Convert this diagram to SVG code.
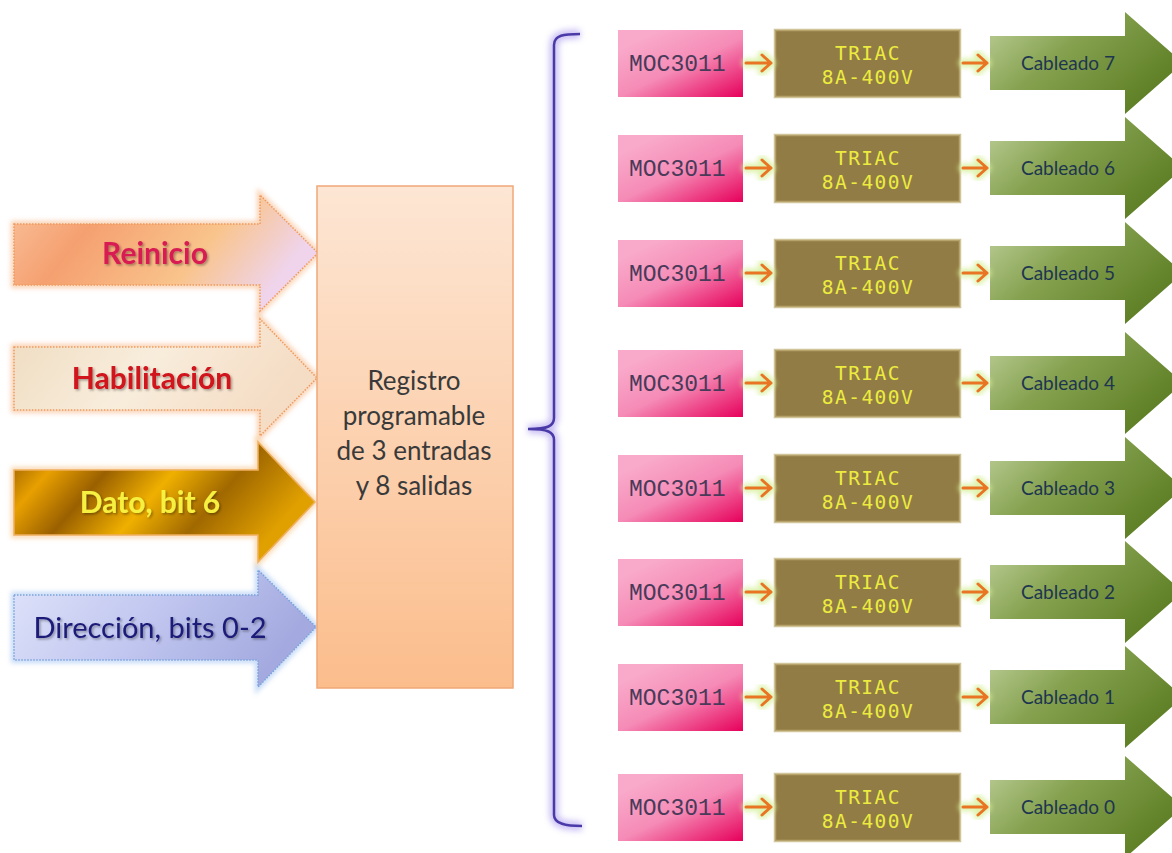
<svg xmlns="http://www.w3.org/2000/svg" width="1172" height="853" viewBox="0 0 1172 853">
  <style>
    .lbl-in { font-family: Lato, "Open Sans", "Liberation Sans", sans-serif; font-size: 30px; font-weight: bold; text-anchor: middle; }
    .reg { font-family: Lato, "Liberation Sans", sans-serif; font-size: 26px; fill: #3a3a3a; text-anchor: middle; }
    .moc-box { fill: url(#gMoc); }
    .moc-txt { font-family: "Liberation Mono", "DejaVu Sans Mono", monospace; font-size: 23px; fill: #4a3a5a; }
    .triac-box { fill: #927c45; stroke: #c2b07a; stroke-width: 2.5; stroke-opacity: 0.75; }
    .triac-txt { font-family: "DejaVu Sans Mono", "Liberation Mono", monospace; font-size: 19.5px; letter-spacing: 1.5px; fill: #ecec40; text-anchor: middle; }
    .out-arrow { fill: url(#gGreen); }
    .out-txt { font-family: Lato, "Liberation Sans", sans-serif; font-size: 19px; fill: #1e3550; text-anchor: middle; }
    .link { fill: none; stroke: #e87424; stroke-width: 3; stroke-linecap: round; stroke-linejoin: round; }
    .link-glow { fill: none; stroke: #d6f09a; stroke-width: 9; stroke-linecap: round; stroke-linejoin: round; opacity: 0.8; filter: url(#soft); }
  </style>
  <defs>
    <filter id="soft" x="-30%" y="-30%" width="160%" height="160%">
      <feGaussianBlur stdDeviation="2.5"/>
    </filter>
    <filter id="glowBrace" x="-50%" y="-10%" width="200%" height="120%">
      <feGaussianBlur stdDeviation="3"/>
    </filter>
    <filter id="tshadow" x="-10%" y="-20%" width="120%" height="150%">
      <feDropShadow dx="1.5" dy="1.5" stdDeviation="1" flood-color="#000" flood-opacity="0.35"/>
    </filter>
    <linearGradient id="gMoc" x1="0.2" y1="0.1" x2="1" y2="1">
      <stop offset="0" stop-color="#f9aacb"/>
      <stop offset="0.45" stop-color="#f58bb6"/>
      <stop offset="1" stop-color="#e6005a"/>
    </linearGradient>
    <linearGradient id="gGreen" x1="0" y1="0.2" x2="1" y2="0.8">
      <stop offset="0" stop-color="#b3c78c"/>
      <stop offset="0.35" stop-color="#86a250"/>
      <stop offset="1" stop-color="#56781c"/>
    </linearGradient>
    <linearGradient id="gReg" x1="0" y1="0" x2="0" y2="1">
      <stop offset="0" stop-color="#fde6d4"/>
      <stop offset="1" stop-color="#fbbd8c"/>
    </linearGradient>
    <linearGradient id="gReinicio" x1="0" y1="0" x2="1" y2="0.3">
      <stop offset="0" stop-color="#f9c09a"/>
      <stop offset="0.3" stop-color="#f5a070"/>
      <stop offset="0.7" stop-color="#f9c48c"/>
      <stop offset="1" stop-color="#efd4ec"/>
    </linearGradient>
    <linearGradient id="gHabil" x1="0" y1="0" x2="1" y2="0.3">
      <stop offset="0" stop-color="#efdcc0"/>
      <stop offset="0.5" stop-color="#f8eddc"/>
      <stop offset="1" stop-color="#f5dcc4"/>
    </linearGradient>
    <linearGradient id="gDato" x1="0" y1="0" x2="1" y2="0.35">
      <stop offset="0" stop-color="#8a5200"/>
      <stop offset="0.18" stop-color="#e8a000"/>
      <stop offset="0.35" stop-color="#9a6000"/>
      <stop offset="0.55" stop-color="#f0b000"/>
      <stop offset="0.75" stop-color="#a06800"/>
      <stop offset="1" stop-color="#e0a000"/>
    </linearGradient>
    <linearGradient id="gDir" x1="0" y1="0" x2="1" y2="0.3">
      <stop offset="0" stop-color="#dfe3fa"/>
      <stop offset="0.5" stop-color="#c2c8f0"/>
      <stop offset="1" stop-color="#a4aadf"/>
    </linearGradient>
  </defs>

  <!-- input arrows -->
  <g id="in-reinicio">
    <path d="M14,224 H260 V195 L318,253 L260,311 V285 H14 Z" fill="none" stroke="#f6b27e" stroke-width="6" opacity="0.6" filter="url(#soft)"/>
    <path d="M14,224 H260 V195 L318,253 L260,311 V285 H14 Z" fill="url(#gReinicio)" stroke="#ee9a5e" stroke-width="1.5" stroke-dasharray="1.5 1.5"/>
    <text class="lbl-in" x="155" y="264" fill="#d81c52" filter="url(#tshadow)">Reinicio</text>
  </g>
  <g id="in-habilitacion">
    <path d="M14,347 H260 V319 L317,378 L260,436 V410 H14 Z" fill="none" stroke="#f6b27e" stroke-width="6" opacity="0.6" filter="url(#soft)"/>
    <path d="M14,347 H260 V319 L317,378 L260,436 V410 H14 Z" fill="url(#gHabil)" stroke="#ee9a5e" stroke-width="1.5" stroke-dasharray="1.5 1.5"/>
    <text class="lbl-in" x="152" y="389" fill="#d0121a" filter="url(#tshadow)">Habilitación</text>
  </g>
  <g id="in-dato">
    <path d="M14,470 H258 V442 L315,502 L258,562 V535 H14 Z" fill="none" stroke="#f6c07e" stroke-width="6" opacity="0.6" filter="url(#soft)"/>
    <path d="M14,470 H258 V442 L315,502 L258,562 V535 H14 Z" fill="url(#gDato)" stroke="#f0b060" stroke-width="1.5"/>
    <text class="lbl-in" x="150" y="513" fill="#f6f040" filter="url(#tshadow)">Dato, bit 6</text>
  </g>
  <g id="in-direccion">
    <path d="M14,595 H258 V570 L316,627 L258,687 V660 H14 Z" fill="none" stroke="#9cc0f0" stroke-width="6" opacity="0.6" filter="url(#soft)"/>
    <path d="M14,595 H258 V570 L316,627 L258,687 V660 H14 Z" fill="url(#gDir)" stroke="#7aa2dc" stroke-width="1.5" stroke-dasharray="1.5 1.5"/>
    <text class="lbl-in" x="150" y="638" fill="#1a1a78" style="font-weight:normal;font-size:29px" filter="url(#tshadow)">Dirección, bits 0-2</text>
  </g>

  <!-- register block -->
  <g id="registro">
    <rect x="317" y="186" width="196" height="502" fill="url(#gReg)" stroke="#f0a878" stroke-width="1.5"/>
    <text class="reg" x="414" y="390">Registro</text>
    <text class="reg" x="414" y="425">programable</text>
    <text class="reg" x="414" y="460">de 3 entradas</text>
    <text class="reg" x="414" y="495">y 8 salidas</text>
  </g>

  <!-- brace grouping the eight outputs -->
  <g id="brace">
    <path d="M580,34 C564,34 554,35 554,45 L554,418 C554,426 548,429 528,429 C548,429 554,432 554,440 L554,815 C554,824 566,826 582,826" fill="none" stroke="#b4a4f0" stroke-width="9" opacity="0.7" filter="url(#glowBrace)"/>
    <path d="M580,34 C564,34 554,35 554,45 L554,418 C554,426 548,429 528,429 C548,429 554,432 554,440 L554,815 C554,824 566,826 582,826" fill="none" stroke="#4a3aa8" stroke-width="2.5"/>
  </g>

  <!-- output channels -->
  <g id="moc7"><rect class="moc-box" x="618" y="30" width="125" height="67"/><text class="moc-txt" x="629" y="71">MOC3011</text></g>
  <g id="triac7"><rect class="triac-box" x="775" y="30" width="185" height="67"/><text class="triac-txt" x="868" y="60">TRIAC</text><text class="triac-txt" x="868" y="84">8A-400V</text></g>
  <g id="out7"><path class="out-arrow" d="M990,36 H1125 V12 L1183,63 L1125,114 V90 H990 Z"/><text class="out-txt" x="1068" y="70">Cableado 7</text></g>

  <g id="moc6"><rect class="moc-box" x="618" y="135" width="125" height="67"/><text class="moc-txt" x="629" y="176">MOC3011</text></g>
  <g id="triac6"><rect class="triac-box" x="775" y="135" width="185" height="67"/><text class="triac-txt" x="868" y="165">TRIAC</text><text class="triac-txt" x="868" y="189">8A-400V</text></g>
  <g id="out6"><path class="out-arrow" d="M990,141 H1125 V117 L1183,168 L1125,219 V195 H990 Z"/><text class="out-txt" x="1068" y="175">Cableado 6</text></g>

  <g id="moc5"><rect class="moc-box" x="618" y="240" width="125" height="67"/><text class="moc-txt" x="629" y="281">MOC3011</text></g>
  <g id="triac5"><rect class="triac-box" x="775" y="240" width="185" height="67"/><text class="triac-txt" x="868" y="270">TRIAC</text><text class="triac-txt" x="868" y="294">8A-400V</text></g>
  <g id="out5"><path class="out-arrow" d="M990,246 H1125 V222 L1183,273 L1125,324 V300 H990 Z"/><text class="out-txt" x="1068" y="280">Cableado 5</text></g>

  <g id="moc4"><rect class="moc-box" x="618" y="350" width="125" height="67"/><text class="moc-txt" x="629" y="391">MOC3011</text></g>
  <g id="triac4"><rect class="triac-box" x="775" y="350" width="185" height="67"/><text class="triac-txt" x="868" y="380">TRIAC</text><text class="triac-txt" x="868" y="404">8A-400V</text></g>
  <g id="out4"><path class="out-arrow" d="M990,356 H1125 V332 L1183,383 L1125,434 V410 H990 Z"/><text class="out-txt" x="1068" y="390">Cableado 4</text></g>

  <g id="moc3"><rect class="moc-box" x="618" y="455" width="125" height="67"/><text class="moc-txt" x="629" y="496">MOC3011</text></g>
  <g id="triac3"><rect class="triac-box" x="775" y="455" width="185" height="67"/><text class="triac-txt" x="868" y="485">TRIAC</text><text class="triac-txt" x="868" y="509">8A-400V</text></g>
  <g id="out3"><path class="out-arrow" d="M990,461 H1125 V437 L1183,488 L1125,539 V515 H990 Z"/><text class="out-txt" x="1068" y="495">Cableado 3</text></g>

  <g id="moc2"><rect class="moc-box" x="618" y="559" width="125" height="67"/><text class="moc-txt" x="629" y="600">MOC3011</text></g>
  <g id="triac2"><rect class="triac-box" x="775" y="559" width="185" height="67"/><text class="triac-txt" x="868" y="589">TRIAC</text><text class="triac-txt" x="868" y="613">8A-400V</text></g>
  <g id="out2"><path class="out-arrow" d="M990,565 H1125 V541 L1183,592 L1125,643 V619 H990 Z"/><text class="out-txt" x="1068" y="599">Cableado 2</text></g>

  <g id="moc1"><rect class="moc-box" x="618" y="664" width="125" height="67"/><text class="moc-txt" x="629" y="705">MOC3011</text></g>
  <g id="triac1"><rect class="triac-box" x="775" y="664" width="185" height="67"/><text class="triac-txt" x="868" y="694">TRIAC</text><text class="triac-txt" x="868" y="718">8A-400V</text></g>
  <g id="out1"><path class="out-arrow" d="M990,670 H1125 V646 L1183,697 L1125,748 V724 H990 Z"/><text class="out-txt" x="1068" y="704">Cableado 1</text></g>

  <g id="moc0"><rect class="moc-box" x="618" y="774" width="125" height="67"/><text class="moc-txt" x="629" y="815">MOC3011</text></g>
  <g id="triac0"><rect class="triac-box" x="775" y="774" width="185" height="67"/><text class="triac-txt" x="868" y="804">TRIAC</text><text class="triac-txt" x="868" y="828">8A-400V</text></g>
  <g id="out0"><path class="out-arrow" d="M990,780 H1125 V756 L1183,807 L1125,858 V834 H990 Z"/><text class="out-txt" x="1068" y="814">Cableado 0</text></g>

  <!-- connectors: MOC -> TRIAC and TRIAC -> output -->
  <g id="connectors">
    <path class="link-glow" d="M746,63 H771 M762,55 L771,63 L762,71 M963,63 H987 M978,55 L987,63 L978,71"/>
    <path class="link" d="M746,63 H771 M762,55 L771,63 L762,71 M963,63 H987 M978,55 L987,63 L978,71"/>
    <path class="link-glow" d="M746,168 H771 M762,160 L771,168 L762,176 M963,168 H987 M978,160 L987,168 L978,176"/>
    <path class="link" d="M746,168 H771 M762,160 L771,168 L762,176 M963,168 H987 M978,160 L987,168 L978,176"/>
    <path class="link-glow" d="M746,273 H771 M762,265 L771,273 L762,281 M963,273 H987 M978,265 L987,273 L978,281"/>
    <path class="link" d="M746,273 H771 M762,265 L771,273 L762,281 M963,273 H987 M978,265 L987,273 L978,281"/>
    <path class="link-glow" d="M746,383 H771 M762,375 L771,383 L762,391 M963,383 H987 M978,375 L987,383 L978,391"/>
    <path class="link" d="M746,383 H771 M762,375 L771,383 L762,391 M963,383 H987 M978,375 L987,383 L978,391"/>
    <path class="link-glow" d="M746,488 H771 M762,480 L771,488 L762,496 M963,488 H987 M978,480 L987,488 L978,496"/>
    <path class="link" d="M746,488 H771 M762,480 L771,488 L762,496 M963,488 H987 M978,480 L987,488 L978,496"/>
    <path class="link-glow" d="M746,592 H771 M762,584 L771,592 L762,600 M963,592 H987 M978,584 L987,592 L978,600"/>
    <path class="link" d="M746,592 H771 M762,584 L771,592 L762,600 M963,592 H987 M978,584 L987,592 L978,600"/>
    <path class="link-glow" d="M746,697 H771 M762,689 L771,697 L762,705 M963,697 H987 M978,689 L987,697 L978,705"/>
    <path class="link" d="M746,697 H771 M762,689 L771,697 L762,705 M963,697 H987 M978,689 L987,697 L978,705"/>
    <path class="link-glow" d="M746,807 H771 M762,799 L771,807 L762,815 M963,807 H987 M978,799 L987,807 L978,815"/>
    <path class="link" d="M746,807 H771 M762,799 L771,807 L762,815 M963,807 H987 M978,799 L987,807 L978,815"/>
  </g>
</svg>
